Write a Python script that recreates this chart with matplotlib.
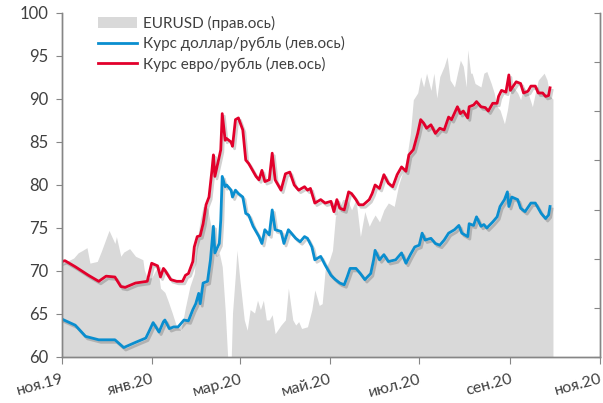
import matplotlib
matplotlib.use("Agg")
import matplotlib.pyplot as plt
import matplotlib.dates as mdates
import matplotlib.patheffects as pe
from matplotlib.patches import Patch
from matplotlib.lines import Line2D
import pandas as pd
import numpy as np

plt.rcParams['font.family'] = ['Lato', 'DejaVu Sans']

start_date = "2019-11-01"

# USD/RUB (left axis): days since start_date, values
usd_days = [0, 9, 16, 25, 36, 42, 50, 57, 59, 62, 66, 69, 70, 73, 76, 79, 83, 86, 89, 91, 93, 94,
            96, 99, 101, 103, 104, 107, 108, 109, 111, 112, 115, 116, 118, 120, 123, 125, 127, 130,
            134, 136, 138, 141, 143, 145, 149, 151, 154, 157, 159, 162, 165, 167, 170, 172, 176, 179,
            183, 186, 189, 192, 194, 196, 200, 203, 206, 210, 212, 213, 216, 219, 222, 227, 231, 234,
            237, 240, 243, 245, 247, 251, 254, 257, 260, 263, 267, 270, 272, 276, 277, 280, 282, 285,
            287, 289, 293, 296, 298, 301, 303, 304, 306, 310, 312, 315, 319, 322, 326, 329, 331, 332]
usd_rub = [64.4, 63.7, 62.4, 62.0, 62.0, 61.1, 61.7, 62.2, 62.9, 64.0, 62.9, 64.1, 64.3, 63.3, 63.5,
           63.5, 64.3, 64.2, 65.5, 66.2, 67.4, 66.2, 68.6, 68.8, 71.3, 75.2, 72.1, 73.2, 75.9, 81.0,
           79.8, 80.0, 79.4, 78.6, 79.4, 79.0, 78.6, 76.7, 76.5, 75.2, 74.0, 73.2, 74.8, 74.2, 77.1,
           74.8, 74.6, 73.2, 74.8, 74.2, 73.8, 73.4, 74.0, 73.8, 72.8, 71.3, 71.7, 70.7, 69.5, 69.0,
           68.6, 68.4, 69.3, 70.3, 70.3, 69.7, 69.0, 69.7, 71.3, 72.4, 71.3, 71.9, 71.1, 71.3, 72.1,
           70.9, 71.9, 72.8, 73.0, 74.4, 73.6, 73.8, 73.2, 73.0, 73.6, 74.4, 74.8, 75.3, 74.4, 74.0,
           75.5, 75.3, 76.3, 75.2, 75.4, 75.0, 75.7, 76.3, 77.5, 78.3, 79.2, 77.5, 78.6, 78.3, 77.3,
           76.9, 77.9, 77.9, 76.7, 76.1, 76.5, 77.5]

# EUR/RUB (left axis)
eur_days = [0, 2, 9, 18, 25, 30, 36, 40, 43, 50, 58, 61, 65, 67, 69, 70, 74, 78, 82, 84, 86, 89, 90,
            92, 94, 96, 98, 100, 102, 103, 104, 107, 108, 109, 111, 112, 115, 116, 118, 120, 123, 125,
            127, 129, 132, 134, 136, 138, 141, 143, 145, 149, 152, 155, 158, 161, 165, 167, 169, 172,
            176, 179, 183, 185, 187, 189, 192, 195, 197, 200, 202, 205, 209, 211, 213, 216, 219, 222,
            225, 228, 231, 234, 236, 239, 242, 244, 246, 248, 251, 254, 257, 260, 263, 265, 269, 271,
            273, 276, 277, 280, 282, 285, 288, 290, 293, 296, 297, 299, 302, 304, 305, 309, 312, 314,
            317, 319, 322, 324, 327, 329, 331, 332]
eur_rub = [71.1, 71.2, 70.5, 69.5, 68.8, 69.4, 69.3, 68.2, 68.1, 68.6, 68.8, 70.9, 70.6, 69.3, 70.3,
           70.1, 69.0, 68.8, 68.8, 69.5, 69.7, 71.1, 72.8, 74.0, 74.1, 75.5, 77.7, 78.6, 81.7, 83.5,
           81.0, 83.3, 84.1, 88.3, 85.2, 85.4, 85.0, 84.5, 87.6, 87.8, 86.4, 82.9, 82.5, 81.9, 81.0,
           80.6, 81.7, 80.4, 80.6, 83.7, 80.6, 79.4, 81.3, 81.5, 80.0, 79.4, 79.8, 79.4, 79.6, 77.9,
           78.3, 77.9, 78.1, 76.9, 78.3, 77.3, 77.1, 79.2, 79.0, 78.3, 77.7, 77.7, 78.3, 79.0, 80.0,
           79.6, 81.2, 80.2, 79.8, 81.2, 82.1, 81.6, 83.5, 84.1, 86.0, 87.6, 87.2, 86.6, 87.0, 86.0,
           86.6, 86.4, 87.9, 87.6, 89.1, 88.3, 88.6, 87.8, 89.1, 89.3, 89.7, 89.1, 89.0, 88.6, 89.5,
           89.5, 90.3, 91.0, 90.8, 92.8, 91.0, 92.0, 91.8, 90.7, 90.9, 91.5, 91.5, 90.7, 90.7, 90.3,
           90.4, 91.3]

# EUR/USD (right axis)
eurusd_days = [0, 2, 8, 11, 14, 17, 19, 24, 27, 30, 32, 36, 37, 40, 42, 44, 46, 50, 55, 56, 58, 61,
               65, 67, 70, 72, 75, 78, 81, 84, 87, 90, 92, 94, 96, 99, 101, 103, 105, 107, 109, 111,
               113, 115, 116, 118, 119, 121, 124, 126, 128, 131, 133, 135, 137, 139, 141, 143, 145,
               149, 152, 154, 157, 159, 161, 163, 167, 170, 172, 175, 177, 179, 182, 184, 186, 188,
               191, 194, 197, 200, 203, 206, 209, 211, 213, 216, 219, 222, 226, 229, 233, 235, 237,
               239, 242, 244, 246, 248, 251, 253, 255, 257, 260, 262, 264, 267, 269, 271, 273, 275,
               276, 278, 279, 281, 285, 287, 289, 292, 294, 296, 298, 301, 303, 305, 307, 310, 312,
               314, 317, 320, 322, 324, 328, 330, 332, 334]
eurusd = [1.1075, 1.1085, 1.1103, 1.1124, 1.1134, 1.1145, 1.1082, 1.1089, 1.1134, 1.1183, 1.1215,
          1.1162, 1.1190, 1.1110, 1.1127, 1.1134, 1.1141, 1.1110, 1.1096, 1.1054, 1.1022, 1.1022,
          1.1068, 1.0980, 1.0963, 1.0931, 1.0879, 1.0823, 1.0809, 1.0903, 1.0987, 1.1040, 1.1176,
          1.1257, 1.1313, 1.1306, 1.1243, 1.1204, 1.1110, 1.1124, 1.1068, 1.0893, 1.0665, 1.0665,
          1.0879, 1.1040, 1.1134, 1.1015, 1.0851, 1.0809, 1.0893, 1.0879, 1.0931, 1.0893, 1.0931,
          1.0851, 1.0851, 1.0872, 1.0795, 1.0830, 1.0851, 1.0980, 1.0851, 1.0830, 1.0844, 1.0816,
          1.0823, 1.0893, 1.0973, 1.0910, 1.0917, 1.1054, 1.1096, 1.1134, 1.1271, 1.1299, 1.1341,
          1.1341, 1.1299, 1.1341, 1.1190, 1.1292, 1.1232, 1.1257, 1.1278, 1.1250, 1.1299, 1.1327,
          1.1313, 1.1400, 1.1474, 1.1530, 1.1610, 1.1747, 1.1775, 1.1841, 1.1799, 1.1855, 1.1785,
          1.1855, 1.1754, 1.1841, 1.1883, 1.1922, 1.1827, 1.1799, 1.1855, 1.1908, 1.1883, 1.1799,
          1.1950, 1.1855, 1.1855, 1.1813, 1.1799, 1.1855, 1.1862, 1.1813, 1.1775, 1.1719, 1.1705,
          1.1649, 1.1705, 1.1785, 1.1799, 1.1775, 1.1747, 1.1799, 1.1775, 1.1719, 1.1775, 1.1827,
          1.1855, 1.1827, 1.1761, 1.1750]

tick_dates = ["2019-11-01", "2020-01-01", "2020-03-01", "2020-05-01", "2020-07-01", "2020-09-01", "2020-11-01"]
tick_labels = ["ноя.19", "янв.20", "мар.20", "май.20", "июл.20", "сен.20", "ноя.20"]
legend_labels = ["EURUSD (прав.ось)", "Курс доллар/рубль (лев.ось)", "Курс евро/рубль (лев.ось)"]

c_area = "#D9D9D9"
c_usd = "#0A8ECF"
c_eur = "#E2002B"
c_axis = "#868686"
c_text = "#404040"

t0 = pd.Timestamp(start_date)
usd_x = t0 + pd.to_timedelta(usd_days, unit="D")
eur_x = t0 + pd.to_timedelta(eur_days, unit="D")
eurusd_x = t0 + pd.to_timedelta(eurusd_days, unit="D")

fig = plt.figure(figsize=(6.03, 4.03), dpi=100)
ax = fig.add_axes([62/603, 46/403, 538/603, 344/403])
ax2 = ax.twinx()

# area on right axis
ax2.fill_between(eurusd_x, eurusd, 1.07, color=c_area, linewidth=0)
ax2.set_ylim(1.07, 1.21)
ax2.set_yticks(np.arange(1.07, 1.2101, 0.02))
ax2.tick_params(axis='y', direction='in', length=4, color=c_axis, labelright=False)

ax.set_zorder(ax2.get_zorder() + 1)
ax.patch.set_visible(False)

shadow = [pe.SimpleLineShadow(offset=(1.5, -1.8), shadow_color='k', alpha=0.18), pe.Normal()]
ax.plot(usd_x, usd_rub, color=c_usd, lw=2.0, solid_joinstyle='round', path_effects=shadow)
ax.plot(eur_x, eur_rub, color=c_eur, lw=2.0, solid_joinstyle='round', path_effects=shadow)

ax.set_ylim(60, 100)
ax.set_yticks(range(60, 101, 5))
ax.set_xlim(pd.Timestamp(tick_dates[0]), pd.Timestamp(tick_dates[-1]))
ax.set_xticks(pd.to_datetime(tick_dates))
ax.set_xticklabels(tick_labels, rotation=15, ha='right', rotation_mode='anchor')
ax.tick_params(axis='y', direction='out', length=4, color=c_axis, labelcolor=c_text, labelsize=12, pad=6)
ax.tick_params(axis='x', direction='out', length=5, color=c_axis, labelcolor=c_text, labelsize=11.5, pad=6)

for a in (ax, ax2):
    a.spines['top'].set_visible(False)
    for s in ('left', 'right', 'bottom'):
        a.spines[s].set_color(c_axis)
        a.spines[s].set_linewidth(1.0)

handles = [Patch(facecolor=c_area, edgecolor='none'),
           Line2D([], [], color=c_usd, lw=2.0),
           Line2D([], [], color=c_eur, lw=2.0)]
leg = ax.legend(handles, legend_labels, loc='upper left', bbox_to_anchor=(0.055, 1.01),
                frameon=False, fontsize=11, handlelength=2.6, handleheight=0.7,
                handletextpad=0.35, labelspacing=0.35, borderaxespad=0)
for t in leg.get_texts():
    t.set_color(c_text)

fig.savefig("out.png", dpi=100)
